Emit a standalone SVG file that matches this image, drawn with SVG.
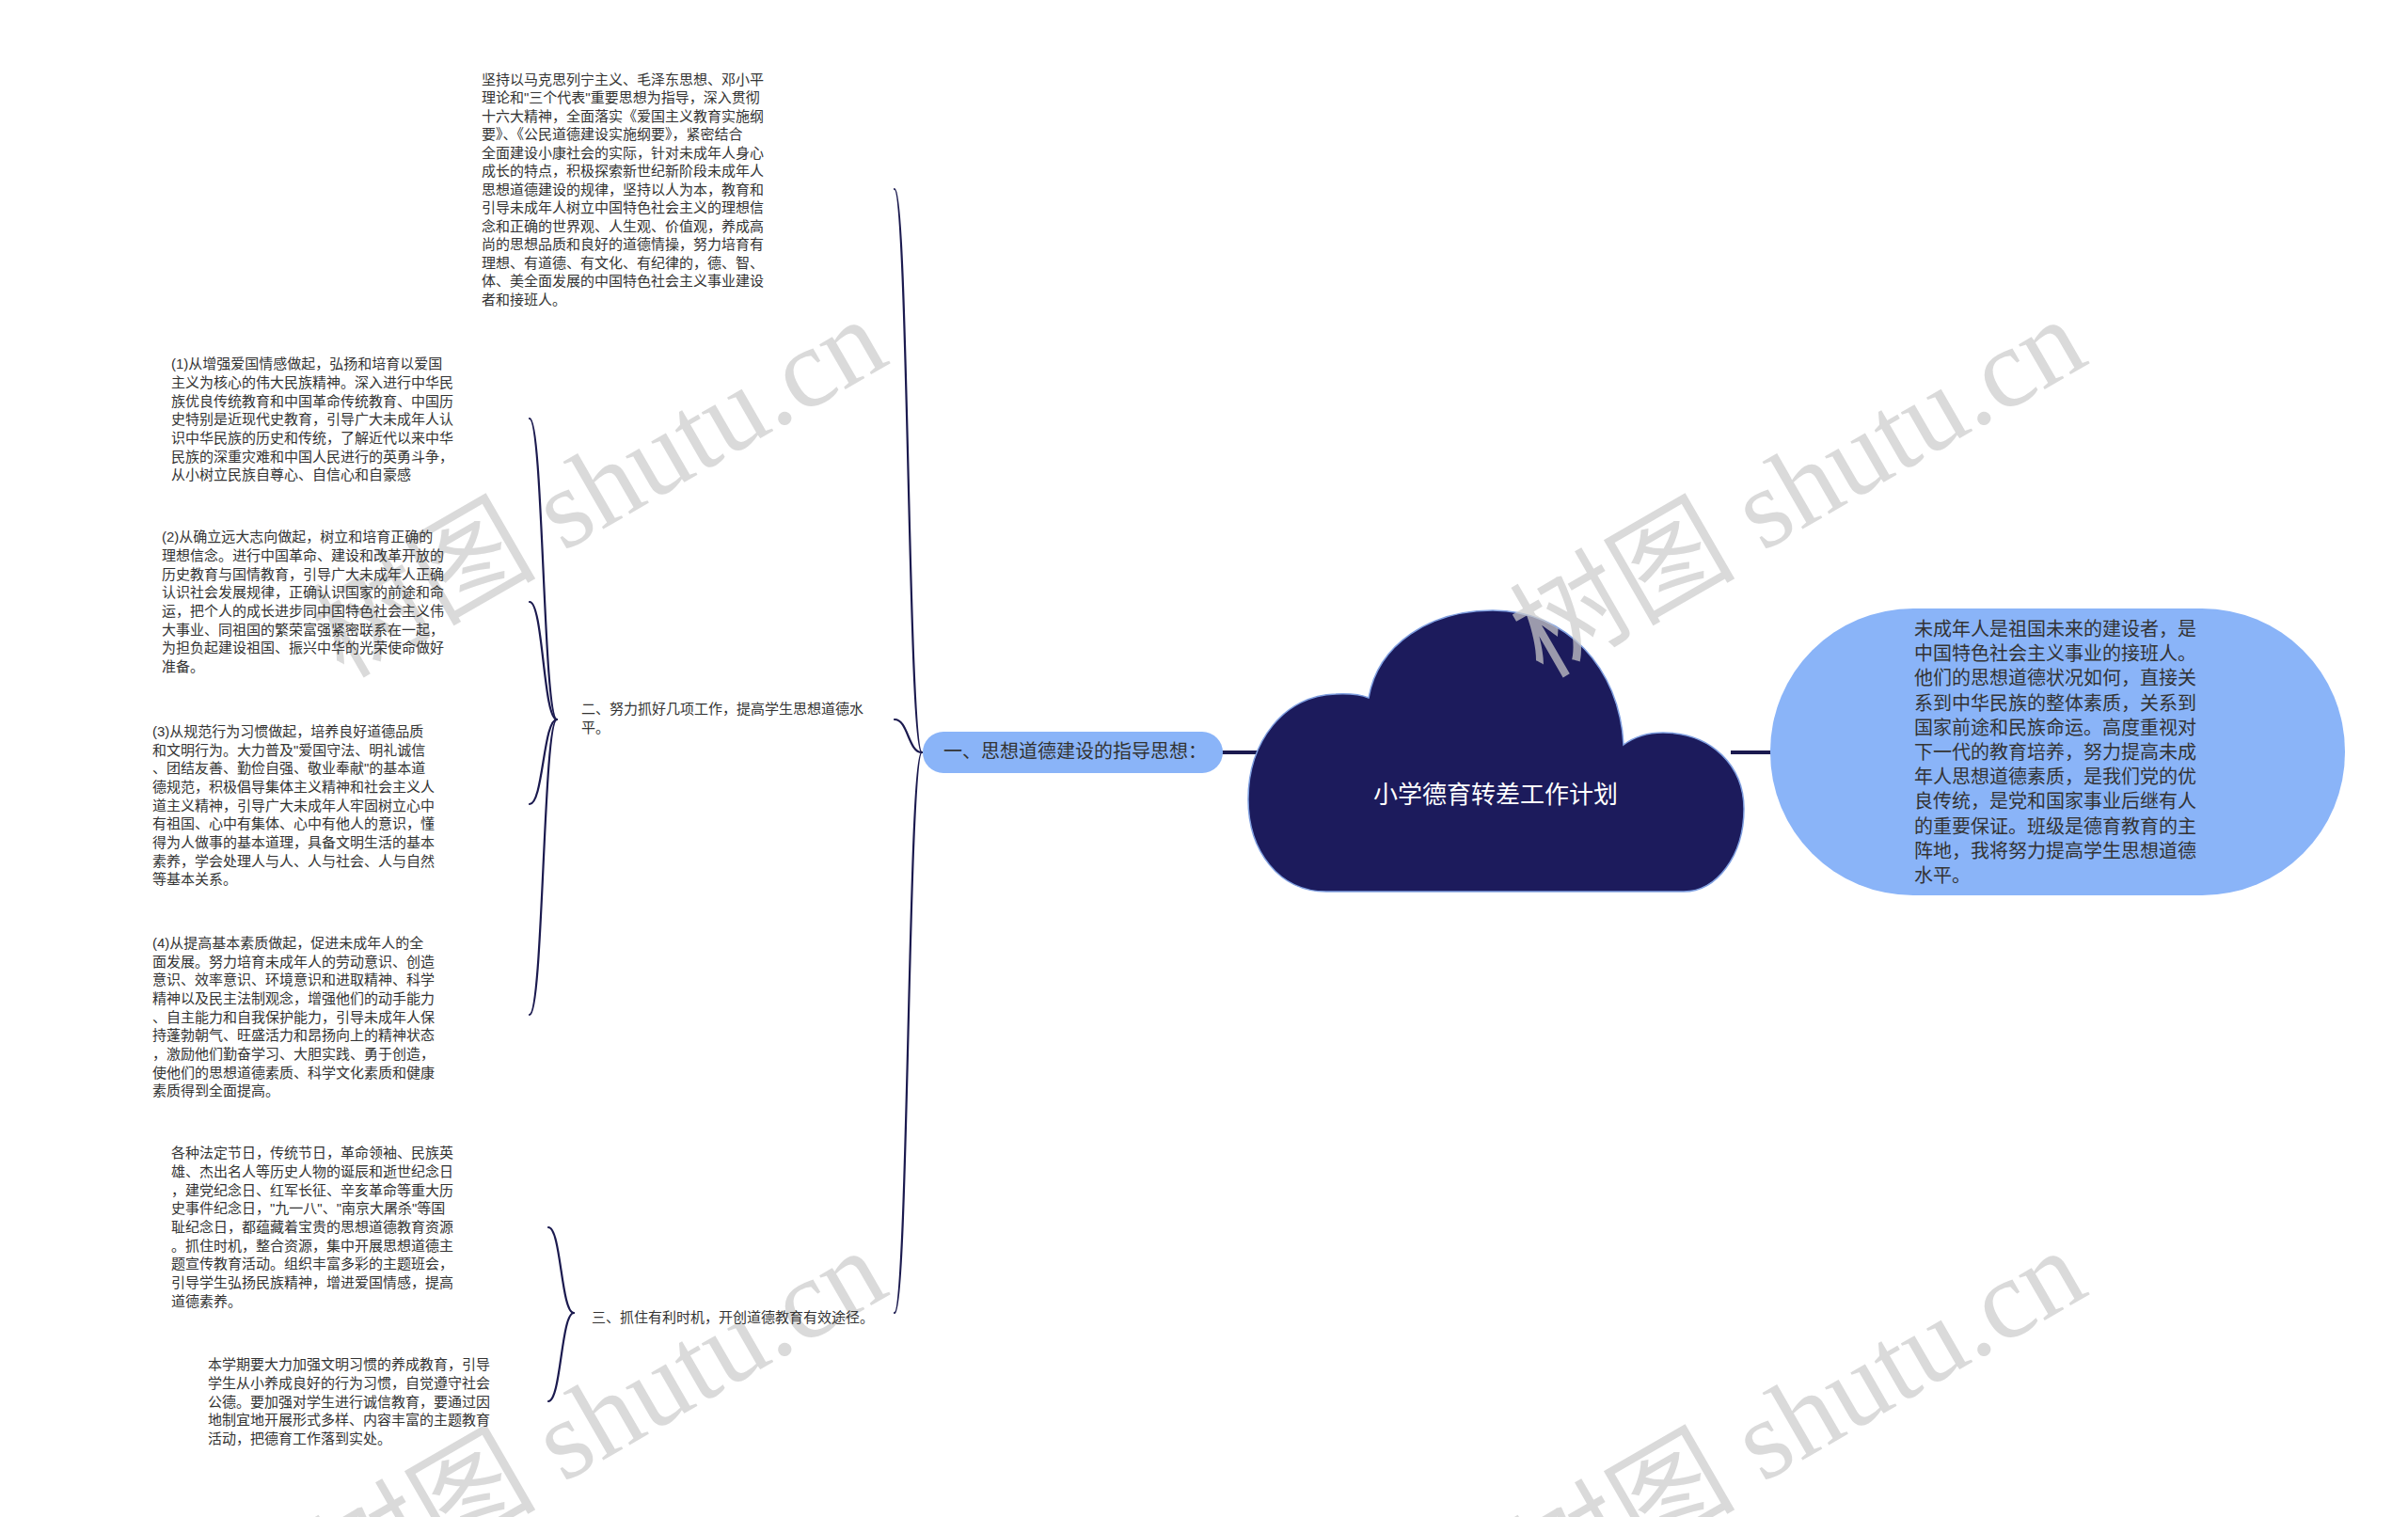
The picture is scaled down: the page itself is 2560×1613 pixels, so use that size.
<svg xmlns="http://www.w3.org/2000/svg" width="2560" height="1613" viewBox="0 0 2560 1613">
<style>
.bg{fill:#ffffff}
.link{fill:none;stroke:#1b1a4f;stroke-width:2.2;stroke-linecap:round}
.bar{fill:none;stroke:#1b1a4f;stroke-width:4}
.t{font-family:"Liberation Sans","Noto Sans CJK SC",sans-serif;font-size:15px;fill:#333333}
.tm{font-family:"Liberation Sans","Noto Sans CJK SC",sans-serif;font-size:20px;fill:#333333}
.tc{font-family:"Liberation Sans","Noto Sans CJK SC",sans-serif;font-size:26px;fill:#ffffff}
.pill{fill:#8ab4f8}
.cloud{fill:#1c1b5c;stroke:#7f9fe0;stroke-width:1.5}
.wm{font-family:"Liberation Serif","Noto Sans CJK SC",serif;font-size:120px;fill:#cccccc;opacity:0.72}
</style>
<rect class="bg" x="0" y="0" width="2560" height="1613"/>
<g id="connectors">
<path class="link" d="M 980 800 C 965.5 800, 965.5 201, 951 201"/>
<path class="link" d="M 980 800 C 965.5 800, 965.5 765, 951 765"/>
<path class="link" d="M 980 800 C 965.5 800, 965.5 1396, 951 1396"/>
<path class="link" d="M 592 765 C 577.5 765, 577.5 445, 563 445"/>
<path class="link" d="M 592 765 C 577.5 765, 577.5 640, 563 640"/>
<path class="link" d="M 592 765 C 577.5 765, 577.5 855, 563 855"/>
<path class="link" d="M 592 765 C 577.5 765, 577.5 1079, 563 1079"/>
<path class="link" d="M 610 1396 C 596.5 1396, 596.5 1305, 583 1305"/>
<path class="link" d="M 610 1396 C 596.5 1396, 596.5 1490, 583 1490"/>
<line class="bar" x1="1299" y1="800" x2="1345" y2="800"/>
<line class="bar" x1="1840" y1="800" x2="1886" y2="800"/>
</g>
<g id="root">
<path class="cloud" d="M 1410 948 C 1360 948, 1327 905, 1327 850 C 1327 788, 1366 739, 1420 738 Q 1443 737, 1455 742 C 1465 685, 1520 649, 1587 649 C 1665 649, 1722 710, 1726 792 C 1738 783, 1752 779, 1768 779 C 1820 779, 1854 815, 1854 860 C 1854 910, 1825 948, 1790 948 Z"/>
<text class="tc" x="1590" y="854" text-anchor="middle">小学德育转差工作计划</text>
</g>
<g id="node-right">
<rect class="pill" x="1882" y="647" width="611" height="305" rx="152" ry="152"/>
<text class="tm" x="2035" y="676"><tspan x="2035">未成年人是祖国未来的建设者，是</tspan><tspan x="2035" dy="26.2">中国特色社会主义事业的接班人。</tspan><tspan x="2035" dy="26.2">他们的思想道德状况如何，直接关</tspan><tspan x="2035" dy="26.2">系到中华民族的整体素质，关系到</tspan><tspan x="2035" dy="26.2">国家前途和民族命运。高度重视对</tspan><tspan x="2035" dy="26.2">下一代的教育培养，努力提高未成</tspan><tspan x="2035" dy="26.2">年人思想道德素质，是我们党的优</tspan><tspan x="2035" dy="26.2">良传统，是党和国家事业后继有人</tspan><tspan x="2035" dy="26.2">的重要保证。班级是德育教育的主</tspan><tspan x="2035" dy="26.2">阵地，我将努力提高学生思想道德</tspan><tspan x="2035" dy="26.2">水平。</tspan></text>
</g>
<g id="node-1">
<rect class="pill" x="981" y="778" width="319" height="44" rx="22" ry="22"/>
<text class="tm" x="1003" y="806">一、思想道德建设的指导思想：</text>
</g>
<g id="watermarks">
<text class="wm" transform="translate(365 722) rotate(-30)">树图 shutu.cn</text>
<text class="wm" transform="translate(1640 722) rotate(-30)">树图 shutu.cn</text>
<text class="wm" transform="translate(365 1712) rotate(-30)">树图 shutu.cn</text>
<text class="wm" transform="translate(1640 1712) rotate(-30)">树图 shutu.cn</text>
</g>
<g id="node-guide">
<text class="t" x="512" y="89.5"><tspan x="512">坚持以马克思列宁主义、毛泽东思想、邓小平</tspan><tspan x="512" dy="19.5">理论和"三个代表"重要思想为指导，深入贯彻</tspan><tspan x="512" dy="19.5">十六大精神，全面落实《爱国主义教育实施纲</tspan><tspan x="512" dy="19.5">要》、《公民道德建设实施纲要》，紧密结合</tspan><tspan x="512" dy="19.5">全面建设小康社会的实际，针对未成年人身心</tspan><tspan x="512" dy="19.5">成长的特点，积极探索新世纪新阶段未成年人</tspan><tspan x="512" dy="19.5">思想道德建设的规律，坚持以人为本，教育和</tspan><tspan x="512" dy="19.5">引导未成年人树立中国特色社会主义的理想信</tspan><tspan x="512" dy="19.5">念和正确的世界观、人生观、价值观，养成高</tspan><tspan x="512" dy="19.5">尚的思想品质和良好的道德情操，努力培育有</tspan><tspan x="512" dy="19.5">理想、有道德、有文化、有纪律的，德、智、</tspan><tspan x="512" dy="19.5">体、美全面发展的中国特色社会主义事业建设</tspan><tspan x="512" dy="19.5">者和接班人。</tspan></text>
</g>
<g id="node-2">
<text class="t" x="618" y="758.8"><tspan x="618">二、努力抓好几项工作，提高学生思想道德水</tspan><tspan x="618" dy="20">平。</tspan></text>
</g>
<g id="node-2-1">
<text class="t" x="182" y="392.2"><tspan x="182">(1)从增强爱国情感做起，弘扬和培育以爱国</tspan><tspan x="182" dy="19.7">主义为核心的伟大民族精神。深入进行中华民</tspan><tspan x="182" dy="19.7">族优良传统教育和中国革命传统教育、中国历</tspan><tspan x="182" dy="19.7">史特别是近现代史教育，引导广大未成年人认</tspan><tspan x="182" dy="19.7">识中华民族的历史和传统，了解近代以来中华</tspan><tspan x="182" dy="19.7">民族的深重灾难和中国人民进行的英勇斗争，</tspan><tspan x="182" dy="19.7">从小树立民族自尊心、自信心和自豪感</tspan></text>
</g>
<g id="node-2-2">
<text class="t" x="172" y="576.2"><tspan x="172">(2)从确立远大志向做起，树立和培育正确的</tspan><tspan x="172" dy="19.7">理想信念。进行中国革命、建设和改革开放的</tspan><tspan x="172" dy="19.7">历史教育与国情教育，引导广大未成年人正确</tspan><tspan x="172" dy="19.7">认识社会发展规律，正确认识国家的前途和命</tspan><tspan x="172" dy="19.7">运，把个人的成长进步同中国特色社会主义伟</tspan><tspan x="172" dy="19.7">大事业、同祖国的繁荣富强紧密联系在一起，</tspan><tspan x="172" dy="19.7">为担负起建设祖国、振兴中华的光荣使命做好</tspan><tspan x="172" dy="19.7">准备。</tspan></text>
</g>
<g id="node-2-3">
<text class="t" x="162" y="782.8"><tspan x="162">(3)从规范行为习惯做起，培养良好道德品质</tspan><tspan x="162" dy="19.7">和文明行为。大力普及"爱国守法、明礼诚信</tspan><tspan x="162" dy="19.7">、团结友善、勤俭自强、敬业奉献"的基本道</tspan><tspan x="162" dy="19.7">德规范，积极倡导集体主义精神和社会主义人</tspan><tspan x="162" dy="19.7">道主义精神，引导广大未成年人牢固树立心中</tspan><tspan x="162" dy="19.7">有祖国、心中有集体、心中有他人的意识，懂</tspan><tspan x="162" dy="19.7">得为人做事的基本道理，具备文明生活的基本</tspan><tspan x="162" dy="19.7">素养，学会处理人与人、人与社会、人与自然</tspan><tspan x="162" dy="19.7">等基本关系。</tspan></text>
</g>
<g id="node-2-4">
<text class="t" x="162" y="1007.8"><tspan x="162">(4)从提高基本素质做起，促进未成年人的全</tspan><tspan x="162" dy="19.7">面发展。努力培育未成年人的劳动意识、创造</tspan><tspan x="162" dy="19.7">意识、效率意识、环境意识和进取精神、科学</tspan><tspan x="162" dy="19.7">精神以及民主法制观念，增强他们的动手能力</tspan><tspan x="162" dy="19.7">、自主能力和自我保护能力，引导未成年人保</tspan><tspan x="162" dy="19.7">持蓬勃朝气、旺盛活力和昂扬向上的精神状态</tspan><tspan x="162" dy="19.7">，激励他们勤奋学习、大胆实践、勇于创造，</tspan><tspan x="162" dy="19.7">使他们的思想道德素质、科学文化素质和健康</tspan><tspan x="162" dy="19.7">素质得到全面提高。</tspan></text>
</g>
<g id="node-3">
<text class="t" x="629" y="1405.5">三、抓住有利时机，开创道德教育有效途径。</text>
</g>
<g id="node-3-1">
<text class="t" x="182" y="1231.2"><tspan x="182">各种法定节日，传统节日，革命领袖、民族英</tspan><tspan x="182" dy="19.7">雄、杰出名人等历史人物的诞辰和逝世纪念日</tspan><tspan x="182" dy="19.7">，建党纪念日、红军长征、辛亥革命等重大历</tspan><tspan x="182" dy="19.7">史事件纪念日，"九一八"、"南京大屠杀"等国</tspan><tspan x="182" dy="19.7">耻纪念日，都蕴藏着宝贵的思想道德教育资源</tspan><tspan x="182" dy="19.7">。抓住时机，整合资源，集中开展思想道德主</tspan><tspan x="182" dy="19.7">题宣传教育活动。组织丰富多彩的主题班会，</tspan><tspan x="182" dy="19.7">引导学生弘扬民族精神，增进爱国情感，提高</tspan><tspan x="182" dy="19.7">道德素养。</tspan></text>
</g>
<g id="node-3-2">
<text class="t" x="221" y="1456.2"><tspan x="221">本学期要大力加强文明习惯的养成教育，引导</tspan><tspan x="221" dy="19.7">学生从小养成良好的行为习惯，自觉遵守社会</tspan><tspan x="221" dy="19.7">公德。要加强对学生进行诚信教育，要通过因</tspan><tspan x="221" dy="19.7">地制宜地开展形式多样、内容丰富的主题教育</tspan><tspan x="221" dy="19.7">活动，把德育工作落到实处。</tspan></text>
</g>
</svg>
